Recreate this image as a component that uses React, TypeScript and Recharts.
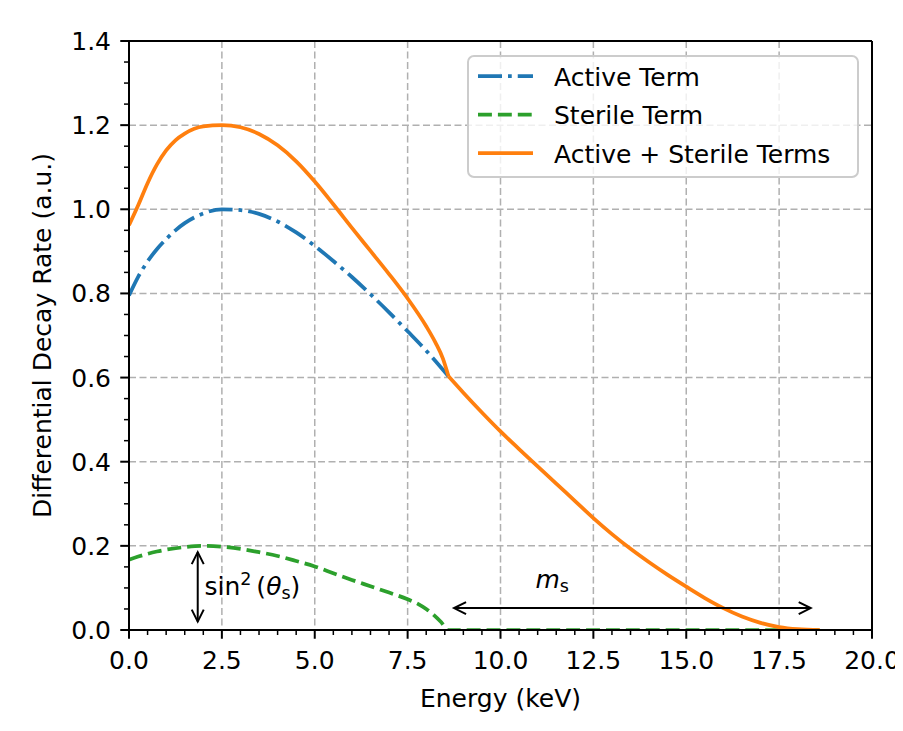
import React from "react";
import {
  ComposedChart,
  Line,
  XAxis,
  YAxis,
  CartesianGrid,
  Legend,
  ReferenceLine,
  ReferenceDot,
} from "recharts";

const FONT = "DejaVu Sans";

// energy (keV) / rate values
const activeEnergy = [0, 0.25, 0.5, 0.75, 1, 1.25, 1.5, 2, 2.5, 3, 3.5, 4, 4.5, 5, 5.5, 6, 6.5, 7, 7.5, 8, 8.6];
const activeRate = [0.795, 0.84, 0.876, 0.905, 0.929, 0.95, 0.967, 0.99, 1.0, 0.998, 0.989, 0.971, 0.945, 0.913, 0.877, 0.839, 0.798, 0.755, 0.71, 0.664, 0.603];

const sterileEnergy = [0, 0.25, 0.5, 0.75, 1, 1.5, 2, 2.5, 3, 3.5, 4, 4.5, 5, 5.5, 6, 6.5, 7, 7.5, 7.8, 8, 8.2, 8.4, 8.6, 10, 14, 18.6];
const sterileRate = [0.167, 0.1745, 0.181, 0.1865, 0.191, 0.197, 0.2, 0.198, 0.193, 0.185, 0.176, 0.164, 0.151, 0.135, 0.119, 0.104, 0.089, 0.073, 0.061, 0.05, 0.036, 0.019, 0, 0, 0, 0];

// sum before the sterile threshold (~8.6 keV)
const sumLowEnergy = [0, 0.25, 0.5, 0.75, 1, 1.25, 1.5, 2, 2.5, 3, 3.5, 4, 4.5, 5, 5.5, 6, 6.5, 7, 7.5, 8, 8.25, 8.45, 8.6];
const sumLowRate = [0.962, 1.01, 1.062, 1.106, 1.14, 1.164, 1.18, 1.197, 1.2, 1.195, 1.179, 1.152, 1.114, 1.066, 1.012, 0.956, 0.901, 0.846, 0.788, 0.722, 0.683, 0.645, 0.603];

// sum after the threshold (only the active term left)
const sumHighEnergy = [8.6, 9, 9.5, 10, 10.5, 11, 11.5, 12, 12.5, 13, 13.5, 14, 14.5, 15, 15.5, 16, 16.5, 17, 17.5, 18, 18.6];
const sumHighRate = [0.603, 0.564, 0.517, 0.472, 0.43, 0.389, 0.348, 0.307, 0.266, 0.228, 0.193, 0.161, 0.131, 0.103, 0.076, 0.052, 0.032, 0.017, 0.007, 0.002, 0];

const majorXTicks = [0, 2.5, 5, 7.5, 10, 12.5, 15, 17.5, 20];
const majorYTicks = [0, 0.2, 0.4, 0.6, 0.8, 1.0, 1.2, 1.4];
const minorXTicks = Array.from({ length: 41 }, (_, i) => i * 0.5);
const minorYTicks = Array.from({ length: 29 }, (_, i) => Math.round(i * 5) / 100);

const toPoints = (xs: number[], ys: number[]) => xs.map((e, i) => ({ e, v: ys[i] }));

const activeData = toPoints(activeEnergy, activeRate);
const sterileData = toPoints(sterileEnergy, sterileRate);
const sumLowData = toPoints(sumLowEnergy, sumLowRate);
const sumHighData = toPoints(sumHighEnergy, sumHighRate);

const isMajor = (v: number, list: number[]) => list.some((m) => Math.abs(m - v) < 1e-6);

function XTick(props: any) {
  const { x, y, payload } = props;
  const major = isMajor(payload.value, majorXTicks);
  return (
    <g>
      <line x1={x} x2={x} y1={y} y2={y + (major ? 8.75 : 5)} stroke="#000" strokeWidth={major ? 2 : 1.5} />
      {major && (
        <text x={x} y={y + 39} textAnchor="middle" fontSize={25} fontFamily={FONT} fill="#000">
          {payload.value.toFixed(1)}
        </text>
      )}
    </g>
  );
}

function YTick(props: any) {
  const { x, y, payload } = props;
  const major = isMajor(payload.value, majorYTicks);
  return (
    <g>
      <line x1={x} x2={x - (major ? 8.75 : 5)} y1={y} y2={y} stroke="#000" strokeWidth={major ? 2 : 1.5} />
      {major && (
        <text x={x - 18} y={y + 9} textAnchor="end" fontSize={25} fontFamily={FONT} fill="#000">
          {payload.value.toFixed(1)}
        </text>
      )}
    </g>
  );
}

// double-headed arrow, open heads like matplotlib "<->"
function DoubleArrow(props: any) {
  const { x1, y1, x2, y2 } = props;
  const ang = Math.atan2(y2 - y1, x2 - x1);
  const len = 12;
  const half = 6;
  const head = (tx: number, ty: number, dir: number) => {
    const bx = tx - dir * len * Math.cos(ang);
    const by = ty - dir * len * Math.sin(ang);
    const px = -Math.sin(ang) * half;
    const py = Math.cos(ang) * half;
    return `M${bx + px},${by + py} L${tx},${ty} L${bx - px},${by - py}`;
  };
  return (
    <g>
      <line x1={x1} y1={y1} x2={x2} y2={y2} stroke="#000" strokeWidth={2} />
      <path d={head(x1, y1, -1)} fill="none" stroke="#000" strokeWidth={2} />
      <path d={head(x2, y2, 1)} fill="none" stroke="#000" strokeWidth={2} />
    </g>
  );
}

const legendItems = [
  { label: "Active Term", color: "#1f77b4", dash: "24 6 3.75 6" },
  { label: "Sterile Term", color: "#2ca02c", dash: "13.9 6" },
  { label: "Active + Sterile Terms", color: "#ff7f0e", dash: undefined },
];

function LegendBox() {
  return (
    <svg width={392} height={123} style={{ display: "block" }}>
      <rect x={1} y={1} width={390} height={121} rx={6} fill="#fff" fillOpacity={0.8} stroke="#cccccc" strokeWidth={2} />
      {legendItems.map((it, i) => {
        const cy = 21 + i * 38.5;
        return (
          <g key={it.label}>
            <line x1={11} x2={66} y1={cy} y2={cy} stroke={it.color} strokeWidth={3.75} strokeDasharray={it.dash} />
            <text x={87} y={cy + 9.5} fontSize={25} fontFamily={FONT} fill="#000">
              {it.label}
            </text>
          </g>
        );
      })}
    </svg>
  );
}

export default function App() {
  return (
    <div style={{ width: 895, height: 715 }}>
      <ComposedChart width={895} height={715} margin={{ top: 33, right: 31, bottom: 0, left: 0 }}>
        <CartesianGrid
          verticalValues={majorXTicks}
          horizontalValues={majorYTicks}
          stroke="#b0b0b0"
          strokeWidth={1.5}
          strokeDasharray="7 3.5"
        />
        <XAxis
          dataKey="e"
          type="number"
          domain={[0, 20]}
          ticks={minorXTicks}
          interval={0}
          height={93}
          tickSize={0}
          tickMargin={0}
          tickLine={false}
          axisLine={{ stroke: "#000", strokeWidth: 2 }}
          tick={<XTick />}
          allowDataOverflow
          label={{
            value: "Energy (keV)",
            content: (p: any) => (
              <text
                x={p.viewBox.x + p.viewBox.width / 2}
                y={p.viewBox.y + 77}
                textAnchor="middle"
                fontSize={25}
                fontFamily={FONT}
                fill="#000"
              >
                Energy (keV)
              </text>
            ),
          }}
        />
        <YAxis
          type="number"
          domain={[0, 1.4]}
          ticks={minorYTicks}
          interval={0}
          width={121}
          tickSize={0}
          tickMargin={0}
          tickLine={false}
          axisLine={{ stroke: "#000", strokeWidth: 2 }}
          tick={<YTick />}
          allowDataOverflow
          label={{
            value: "Differential Decay Rate (a.u.)",
            content: (p: any) => {
              const cx = 43;
              const cy = p.viewBox.y + p.viewBox.height / 2;
              return (
                <text
                  x={cx}
                  y={cy}
                  transform={`rotate(-90, ${cx}, ${cy})`}
                  textAnchor="middle"
                  fontSize={25}
                  fontFamily={FONT}
                  fill="#000"
                >
                  Differential Decay Rate (a.u.)
                </text>
              );
            },
          }}
        />
        <ReferenceLine y={1.4} stroke="#000" strokeWidth={2} />
        <ReferenceLine x={20} stroke="#000" strokeWidth={2} />

        <Line
          data={activeData}
          dataKey="v"
          name="Active Term"
          type="monotone"
          stroke="#1f77b4"
          strokeWidth={3.75}
          strokeDasharray="24 6 3.75 6"
          dot={false}
          activeDot={false}
          isAnimationActive={false}
        />
        <Line
          data={sterileData}
          dataKey="v"
          name="Sterile Term"
          type="monotone"
          stroke="#2ca02c"
          strokeWidth={3.75}
          strokeDasharray="13.9 6"
          dot={false}
          activeDot={false}
          isAnimationActive={false}
        />
        <Line
          data={sumLowData}
          dataKey="v"
          name="Active + Sterile Terms"
          type="monotone"
          stroke="#ff7f0e"
          strokeWidth={3.75}
          strokeLinejoin="round"
          dot={false}
          activeDot={false}
          isAnimationActive={false}
        />
        <Line
          data={sumHighData}
          dataKey="v"
          name="Active + Sterile Terms (tail)"
          legendType="none"
          type="monotone"
          stroke="#ff7f0e"
          strokeWidth={3.75}
          strokeLinejoin="round"
          dot={false}
          activeDot={false}
          isAnimationActive={false}
        />

        <ReferenceLine
          segment={[
            { x: 1.85, y: 0.185 },
            { x: 1.85, y: 0.02 },
          ]}
          ifOverflow="visible"
          shape={<DoubleArrow />}
        />
        <ReferenceLine
          segment={[
            { x: 8.75, y: 0.052 },
            { x: 18.35, y: 0.052 },
          ]}
          ifOverflow="visible"
          shape={<DoubleArrow />}
        />
        <ReferenceDot
          x={2.03}
          y={0.083}
          r={0}
          ifOverflow="visible"
          shape={(p: any) => (
            <text x={p.cx} y={p.cy} fontSize={25} fontFamily={FONT} fill="#000">
              sin
              <tspan fontSize={17.5} dy={-10}>2</tspan>
              <tspan fontSize={25} dy={10}>{"\u2009("}</tspan>
              <tspan fontStyle="italic">θ</tspan>
              <tspan fontSize={17.5} dy={4}>s</tspan>
              <tspan fontSize={25} dy={-4}>)</tspan>
            </text>
          )}
        />
        <ReferenceDot
          x={10.94}
          y={0.099}
          r={0}
          ifOverflow="visible"
          shape={(p: any) => (
            <text x={p.cx} y={p.cy} fontSize={25} fontFamily={FONT} fill="#000">
              <tspan fontStyle="italic">m</tspan>
              <tspan fontSize={17.5} dy={4}>s</tspan>
            </text>
          )}
        />
        <Legend
          layout="vertical"
          align="center"
          verticalAlign="middle"
          wrapperStyle={{ left: 459, top: 47, width: 392, height: 123 }}
          content={() => <LegendBox />}
        />
      </ComposedChart>
    </div>
  );
}
